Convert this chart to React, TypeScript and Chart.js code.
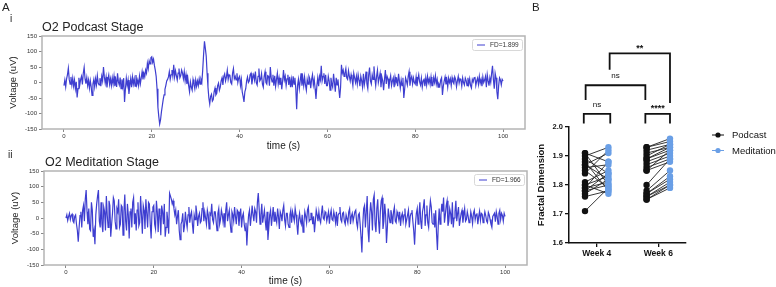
import React, { useEffect, useRef } from 'react';
import { Chart, registerables } from 'chart.js';
Chart.register(...registerables);

const FONT = "'Liberation Sans', Arial, sans-serif";
Chart.defaults.font.family = FONT;

// ---------- Panel A data ----------
const TIME_STEP = 0.2;
const TIME_TICKS = [0, 20, 40, 60, 80, 100];
const VOLT_TICKS = [-150, -100, -50, 0, 50, 100, 150];
const PODCAST_LEGEND = 'FD=1.899';
const MEDITATION_LEGEND = 'FD=1.966';

const PODCAST_TRACE = [
  -10, 8, -14, 12, 25, 46, 10, -5, 18, -8, 14, -12, 8, -20, 2, -48, -20, 15, -8, 10,
  20, -6, 30, 49, 12, -4, 16, -10, 8, -18, 6, -14, -42, -5, 10, -14, 12, -8, 22, -2,
  -8, 14, -12, 20, 5, 50, 18, -2, 18, -16, 10, 24, -6, 12, -10, 15, -5, 20, -12, 8,
  -14, 30, 2, -8, 16, -20, 10, -12, 14, -63, -20, 14, -10, 8, -37, -10, 12, -15, 18, -5,
  12, -12, 24, -6, 8, -10, 20, -4, 15, 35, 10, 30, 18, 40, 30, 62, 45, 70, 60, 80,
  83, 65, 75, 55, 40, 20, -20, -80, -110, -134, -120, -95, -75, -55, -40, -22, -10, 5, 10, 18,
  35, 10, 25, 40, 20, 57, 18, 38, 22, 8, 30, 45, 15, 22, 40, 30, 12, 35, 5, 25,
  -5, 15, -10, -30, 2, -15, -25, 10, -5, -20, 8, -12, 5, -10, 12, -5, 10, 0, 40, 90,
  133, 110, 85, 30, -15, -50, -69, -45, -38, -60, -55, -30, -18, -40, -35, -10, -2, -25, -15, 5,
  15, -8, 20, 28, 5, 18, 40, 10, 25, 22, 0, -5, 30, 45, 12, 20, 8, 30, 0, 15,
  20, -10, 10, -30, -45, -63, -30, -20, 5, 18, 0, 5, 25, 30, -6, 15, 25, 8, 35, 0,
  -8, 20, 45, 5, 10, 28, -5, -15, 20, 35, 0, -5, 22, 20, -10, 50, 15, 2, 25, -10,
  22, -12, 10, 30, -5, 15, -8, 15, -22, 5, 40, 8, 20, -10, 12, 25, -8, 18, -15, 10,
  -15, 20, -5, 15, -20, -86, -10, 10, -20, 5, 30, -10, 15, -10, 18, -8, -25, 10, -5, 20,
  12, -18, 10, 25, -8, 10, -20, -53, -10, 15, -12, 20, 8, 54, 5, 20, 30, -5, 25, -10,
  -10, 20, 5, -25, 15, -5, -15, 28, 0, -30, 15, -8, 10, -20, -50, -15, 57, 30, 40, 20,
  30, 45, 15, 10, 38, 20, 5, 25, 10, -10, 30, 15, 0, 20, -5, 25, 8, -12, 20, 5,
  -15, 28, -8, 10, 35, -5, -20, 25, 48, 5, -5, 25, 10, 52, 15, -10, 20, 40, 0, 15,
  30, -15, 18, 5, -25, 10, 40, -5, 20, 12, -20, 8, 22, -10, 5, 15, -15, 18, 0, 10,
  -12, 28, 5, -18, 8, -10, 15, -50, -20, 15, 5, -8, 20, 35, -10, 12, 20, -5, 15, 0,
  -5, 18, -12, 10, 25, 2, -8, 14, -15, 5, 10, -12, 15, -8, 20, 0, 12, -6, 18, -10,
  -10, 15, 0, 22, -5, 10, -15, -5, -12, 8, 15, -40, -12, 5, 18, -6, 10, -15, 14, 0,
  12, -10, 16, 2, -4, 18, 10, -14, 5, 20, -2, 12, 8, -12, 15, 0, -8, 14, 6, -10,
  15, -5, 12, -10, -18, 10, 2, 15, 18, -10, 5, 14, -6, 20, -2, 10, -12, 18, 0, 8,
  20, -15, 25, 5, -10, 15, 0, 30, 54, 10, -20, 30, 15, -30, -54, -10, 15, 8, -8, 10,
  5,
];

const MEDITATION_TRACE = [
  0, 10, -8, 5, 15, -5, 8, 12, -10, -15, 5, 10, -20, -40, -76, -30, 8, 20, -30, 25,
  40, -10, 60, 89, 20, -20, 30, -35, -40, 50, 25, -60, -40, -84, 10, 45, 70, 89, -10, -30,
  50, -20, -45, 35, 20, -40, 70, 10, -30, 55, 40, -60, -20, 15, 65, 55, -10, -35, 30, 20,
  60, -30, -20, 40, 35, -55, 20, 75, -10, -40, 45, 10, -65, 20, 30, -30, 50, 65, -20, 15,
  -40, 25, 50, -25, -15, 70, 10, -50, 40, 25, -35, 60, 15, -30, 50, 45, -20, -65, 20, 35,
  40, -20, -35, 55, 20, -45, 30, 10, -55, 40, 20, -20, 45, -60, -30, 20, -10, -50, 79, 70,
  60, 45, 55, 30, 10, 25, -20, 5, 25, -40, -69, -20, -10, 15, -45, -25, 20, -10, -30, 10,
  35, -15, 10, 20, -20, -50, 10, -5, 40, 15, -25, 5, 15, -15, -10, 30, 50, -10, 20, 0,
  -20, 25, 10, -35, 15, 10, 45, -5, -15, 20, 20, -10, -40, 15, 30, -20, -5, 25, 10, -15,
  15, -30, 25, 50, -10, 10, 25, -15, -45, 20, 10, -10, 35, 5, -20, 25, 20, -25, 10, 30,
  -30, 5, 15, -20, -40, -15, -88, -30, 10, 25, -25, 5, 40, 10, -10, 30, 20, -15, 50, 80,
  30, -20, 10, 45, -15, 5, 25, -10, -40, 20, -70, -30, 10, 25, -25, 5, 35, -10, 20, 0,
  -15, 30, 5, -35, 20, 10, -10, 25, 40, -5, -25, 15, 15, -20, -30, 10, 25, -15, 20, 5,
  -10, 30, 10, -20, -53, -5, 15, -10, -20, 10, -45, -15, 20, 5, -15, 25, 35, -10, -5, 15,
  15, -20, 5, -45, -10, 25, 10, -10, 20, -5, -15, 15, 40, 0, -5, 20, 15, -10, 5, 20,
  -18, 10, 25, -5, -8, 20, 5, -15, 20, -25, 10, 15, 35, -5, -12, 15, 18, -10, -20, 10,
  10, -15, 20, 30, -20, 5, 15, -10, -10, 20, 25, -15, -30, 10, 15, -20, -60, -110, -20, 30,
  40, -30, 20, 70, -40, -77, 10, 50, 20, -40, 60, 74, -20, -45, 30, 60, -10, -50, 20, 55,
  65, -35, -10, 45, 10, -80, -30, 30, 5, -15, 25, 10, -20, 20, 35, -10, -15, 20, 10, -5,
  20, -25, 5, 15, -10, 10, 30, -20, -5, 10, 25, -30, 5, 15, 25, -10, -40, -85, -20, 15,
  30, -20, 10, 50, -10, -35, 20, 35, 60, -25, 10, 40, -15, -30, 20, 55, 35, -15, -20, 15,
  -30, 25, -50, -102, -20, 30, -20, 10, 45, 20, 65, -15, 10, 40, 55, -25, -10, 30, 15, -20,
  50, -30, 0, 20, 55, -10, 15, 35, -25, -5, 15, 25, -15, 10, 30, -10, -5, 20, 5, -15,
  -10, 20, 5, -18, 15, 25, -5, 10, 15, -20, 5, 22, -8, 15, 12, -15, 0, 20, 8, -10,
  -15, 18, 10, -5, -20, -30, 5, 10, 15, -12, 20, 5, -20, 15, 25, -5, 15, 8, -10, 15,
  5,
];

// ---------- Panel B data ----------
const WEEKS = ['Week 4', 'Week 6'];
const FD_TICKS = [1.6, 1.7, 1.8, 1.9, 2.0];
const PODCAST_W4 = [1.91, 1.91, 1.90, 1.89, 1.88, 1.87, 1.87, 1.86, 1.85, 1.84, 1.81, 1.80, 1.80, 1.79, 1.79, 1.78, 1.78, 1.77, 1.76, 1.71];
const MEDITATION_W4 = [1.88, 1.80, 1.93, 1.84, 1.78, 1.91, 1.82, 1.87, 1.79, 1.92, 1.85, 1.77, 1.83, 1.81, 1.88, 1.84, 1.80, 1.82, 1.78, 1.79];
const PODCAST_W6 = [1.93, 1.93, 1.92, 1.91, 1.90, 1.89, 1.89, 1.88, 1.87, 1.86, 1.85, 1.85, 1.80, 1.78, 1.77, 1.77, 1.76, 1.76, 1.75, 1.75];
const MEDITATION_W6 = [1.96, 1.95, 1.94, 1.93, 1.94, 1.92, 1.93, 1.91, 1.90, 1.89, 1.92, 1.88, 1.89, 1.85, 1.83, 1.82, 1.81, 1.80, 1.80, 1.79];
// significance brackets (x in week units, y in fractal-dimension units)
const BRACKETS = [
  { x1: -0.21, x2: 0.22, y: 2.045, end1: 2.012, end2: 2.012, label: 'ns' },
  { x1: 0.79, x2: 1.19, y: 2.045, end1: 2.012, end2: 2.012, label: '****' },
  { x1: -0.18, x2: 0.79, y: 2.144, end1: 2.093, end2: 2.093, label: 'ns' },
  { x1: 0.21, x2: 1.19, y: 2.254, end1: 2.197, end2: 2.083, label: '**' },
];

// ---------- styles ----------
const TRACE_COLOR = '#3e3ed0';
const POD_COLOR = '#111111';
const MED_COLOR = '#6a9fe6';
const PAIR_OFFSET = 0.19;

const framePlugin = {
  id: 'frame',
  afterDraw(chart: any) {
    const { ctx, chartArea: a } = chart;
    ctx.save();
    ctx.strokeStyle = '#b4b4b4';
    ctx.lineWidth = 1.5;
    ctx.strokeRect(a.left, a.top, a.right - a.left, a.bottom - a.top);
    ctx.restore();
  },
};

const innerLegendPlugin = {
  id: 'innerLegend',
  afterDraw(chart: any) {
    const { ctx, chartArea: a } = chart;
    const ds = chart.data.datasets[0];
    const w = 50, h = 11;
    const x = a.right - 3 - w, y = a.top + 3;
    ctx.save();
    ctx.fillStyle = 'rgba(255,255,255,0.85)';
    ctx.strokeStyle = '#d8d8d8';
    ctx.lineWidth = 1;
    ctx.beginPath();
    ctx.roundRect(x + 0.5, y + 0.5, w, h, 2);
    ctx.fill();
    ctx.stroke();
    ctx.strokeStyle = ds.borderColor;
    ctx.beginPath();
    ctx.moveTo(x + 5, y + h / 2 + 0.5);
    ctx.lineTo(x + 13, y + h / 2 + 0.5);
    ctx.stroke();
    ctx.fillStyle = '#333';
    ctx.font = `6.5px ${FONT}`;
    ctx.textBaseline = 'middle';
    ctx.fillText(ds.label, x + 18, y + h / 2 + 0.5);
    ctx.restore();
  },
};

const bracketPlugin = {
  id: 'brackets',
  afterDraw(chart: any) {
    const { ctx } = chart;
    const xs = chart.scales.x, ys = chart.scales.y;
    ctx.save();
    ctx.strokeStyle = '#111';
    ctx.lineWidth = 1.8;
    ctx.fillStyle = '#111';
    ctx.textAlign = 'center';
    ctx.textBaseline = 'alphabetic';
    BRACKETS.forEach((b) => {
      const x1 = xs.getPixelForValue(b.x1), x2 = xs.getPixelForValue(b.x2);
      const y = ys.getPixelForValue(b.y);
      const y1 = ys.getPixelForValue(b.end1), y2 = ys.getPixelForValue(b.end2);
      ctx.beginPath();
      ctx.moveTo(x1, y1);
      ctx.lineTo(x1, y);
      ctx.lineTo(x2, y);
      ctx.lineTo(x2, y2);
      ctx.stroke();
      const star = b.label.startsWith('*');
      ctx.font = star ? `bold 9px ${FONT}` : `8px ${FONT}`;
      ctx.fillText(b.label, (x1 + x2) / 2, star ? y - 2.5 : y - 7);
    });
    ctx.restore();
  },
};

const sideLegendPlugin = {
  id: 'sideLegend',
  afterDraw(chart: any) {
    const { ctx, chartArea: a } = chart;
    const items = chart.data.datasets.slice(0, 2);
    ctx.save();
    items.forEach((ds: any, i: number) => {
      const y = 135 + i * 15.5;
      const x0 = a.right + 26;
      ctx.strokeStyle = ds.backgroundColor;
      ctx.fillStyle = ds.backgroundColor;
      ctx.lineWidth = 1;
      ctx.beginPath();
      ctx.moveTo(x0, y);
      ctx.lineTo(x0 + 12, y);
      ctx.stroke();
      ctx.beginPath();
      ctx.arc(x0 + 6, y, 2.6, 0, Math.PI * 2);
      ctx.fill();
      ctx.fillStyle = '#111';
      ctx.font = `9.5px ${FONT}`;
      ctx.textBaseline = 'middle';
      ctx.fillText(ds.label, x0 + 20, y + 0.5);
    });
    ctx.restore();
  },
};

function traceConfig(values: number[], legend: string, p: any) {
  return {
    type: 'line',
    data: {
      datasets: [{
        label: legend,
        data: values.map((v, i) => ({ x: +(i * TIME_STEP).toFixed(1), y: v })),
        borderColor: TRACE_COLOR,
        borderWidth: 1.2,
        pointRadius: 0,
        tension: 0,
      }],
    },
    options: {
      animation: false,
      responsive: false,
      events: [],
      layout: { padding: { top: p.top, right: p.right, left: 0, bottom: 0 } },
      plugins: { legend: { display: false }, tooltip: { enabled: false } },
      scales: {
        x: {
          type: 'linear', min: -5, max: 105,
          afterBuildTicks: (s: any) => { s.ticks = TIME_TICKS.map((v) => ({ value: v })); },
          afterFit: (s: any) => { s.height = p.xHeight; },
          grid: { drawOnChartArea: false, tickLength: 3, color: '#888' },
          border: { display: false },
          ticks: { font: { size: 6 }, color: '#333', padding: 1, maxRotation: 0, autoSkip: false },
          title: { display: true, text: 'time (s)', font: { size: 10 }, color: '#222', padding: { top: 0, bottom: p.xTitlePad } },
        },
        y: {
          type: 'linear', min: -150, max: 150,
          afterBuildTicks: (s: any) => { s.ticks = VOLT_TICKS.map((v) => ({ value: v })); },
          afterFit: (s: any) => { s.width = p.yWidth; },
          grid: { drawOnChartArea: false, tickLength: 3, color: '#888' },
          border: { display: false },
          ticks: { font: { size: 6 }, color: '#333', padding: 2, autoSkip: false },
          title: { display: true, text: 'Voltage (uV)', font: { size: 9.5 }, color: '#222', padding: { top: p.yTitlePad, bottom: 0 } },
        },
      },
    },
    plugins: [framePlugin, innerLegendPlugin],
  };
}

function fdConfig() {
  const pairs: any[] = [];
  PODCAST_W4.forEach((v, i) => {
    pairs.push({ x: -PAIR_OFFSET, y: v }, { x: PAIR_OFFSET, y: MEDITATION_W4[i] }, { x: 0, y: null });
  });
  PODCAST_W6.forEach((v, i) => {
    pairs.push({ x: 1 - PAIR_OFFSET, y: v }, { x: 1 + PAIR_OFFSET, y: MEDITATION_W6[i] }, { x: 1, y: null });
  });
  return {
    type: 'scatter',
    data: {
      datasets: [
        {
          label: 'Podcast',
          data: [...PODCAST_W4.map((v) => ({ x: -PAIR_OFFSET, y: v })), ...PODCAST_W6.map((v) => ({ x: 1 - PAIR_OFFSET, y: v }))],
          backgroundColor: POD_COLOR, borderColor: POD_COLOR, pointRadius: 3.2, pointBorderWidth: 0,
        },
        {
          label: 'Meditation',
          data: [...MEDITATION_W4.map((v) => ({ x: PAIR_OFFSET, y: v })), ...MEDITATION_W6.map((v) => ({ x: 1 + PAIR_OFFSET, y: v }))],
          backgroundColor: MED_COLOR, borderColor: MED_COLOR, pointRadius: 3.2, pointBorderWidth: 0,
        },
        {
          label: 'pairs', type: 'line', data: pairs, borderColor: '#222', borderWidth: 0.9,
          pointRadius: 0, showLine: true, spanGaps: false,
        },
      ],
    },
    options: {
      animation: false,
      responsive: false,
      events: [],
      layout: { padding: { top: 127, right: 90, left: 0, bottom: 0 } },
      plugins: { legend: { display: false }, tooltip: { enabled: false } },
      scales: {
        x: {
          type: 'linear', min: -0.45, max: 1.45,
          afterBuildTicks: (s: any) => { s.ticks = WEEKS.map((_, i) => ({ value: i })); },
          afterFit: (s: any) => { s.height = 44; },
          grid: { drawOnChartArea: false, tickLength: 4, color: '#111', lineWidth: 1.3 },
          border: { display: true, color: '#111', width: 1.5 },
          ticks: { font: { size: 8.5, weight: 'bold' }, color: '#111', padding: 2, maxRotation: 0, autoSkip: false, callback: (v: any) => WEEKS[v] },
        },
        y: {
          type: 'linear', min: 1.6, max: 2.0,
          afterBuildTicks: (s: any) => { s.ticks = FD_TICKS.map((v) => ({ value: v })); },
          afterFit: (s: any) => { s.width = 39; },
          grid: { drawOnChartArea: false, tickLength: 4, color: '#111', lineWidth: 1.3 },
          border: { display: true, color: '#111', width: 1.5 },
          ticks: { font: { size: 7.5, weight: 'bold' }, color: '#111', padding: 2, autoSkip: false, callback: (v: any) => Number(v).toFixed(1) },
          title: { display: true, text: 'Fractal Dimension', font: { size: 9.5, weight: 'bold' }, color: '#111', padding: { top: 6, bottom: 0 } },
        },
      },
    },
    plugins: [bracketPlugin, sideLegendPlugin],
  };
}

function ChartCanvas({ make, left, top, width, height }: any) {
  const ref = useRef<HTMLCanvasElement | null>(null);
  useEffect(() => {
    if (!ref.current) return;
    const chart = new Chart(ref.current, make());
    return () => chart.destroy();
  }, []);
  return (
    <canvas
      ref={ref}
      width={width}
      height={height}
      style={{ position: 'absolute', left, top, width, height }}
    />
  );
}

const txt = (left: number, top: number, size: number, extra: any = {}) => ({
  position: 'absolute' as const, left, top, fontSize: size, lineHeight: 1, color: '#222', whiteSpace: 'nowrap' as const, ...extra,
});

export default function App() {
  return (
    <div style={{ position: 'fixed', left: 0, top: 0, width: 776, height: 287, background: '#fff', overflow: 'hidden', fontFamily: FONT }}>
      <ChartCanvas
        left={0} top={0} width={540} height={155}
        make={() => traceConfig(PODCAST_TRACE, PODCAST_LEGEND, { top: 36, right: 15, yWidth: 42, xHeight: 26, yTitlePad: 8, xTitlePad: 3 })}
      />
      <ChartCanvas
        left={0} top={155} width={540} height={132}
        make={() => traceConfig(MEDITATION_TRACE, MEDITATION_LEGEND, { top: 16, right: 13, yWidth: 44, xHeight: 22, yTitlePad: 10, xTitlePad: 0 })}
      />
      <ChartCanvas left={530} top={0} width={246} height={287} make={fdConfig} />
      <div style={txt(2, 2, 11.5)}>A</div>
      <div style={txt(10, 14, 10)}>i</div>
      <div style={txt(42, 21, 12.5)}>O2 Podcast Stage</div>
      <div style={txt(8, 150, 10)}>ii</div>
      <div style={txt(45, 156, 12.5)}>O2 Meditation Stage</div>
      <div style={txt(532, 2, 11.5)}>B</div>
    </div>
  );
}
